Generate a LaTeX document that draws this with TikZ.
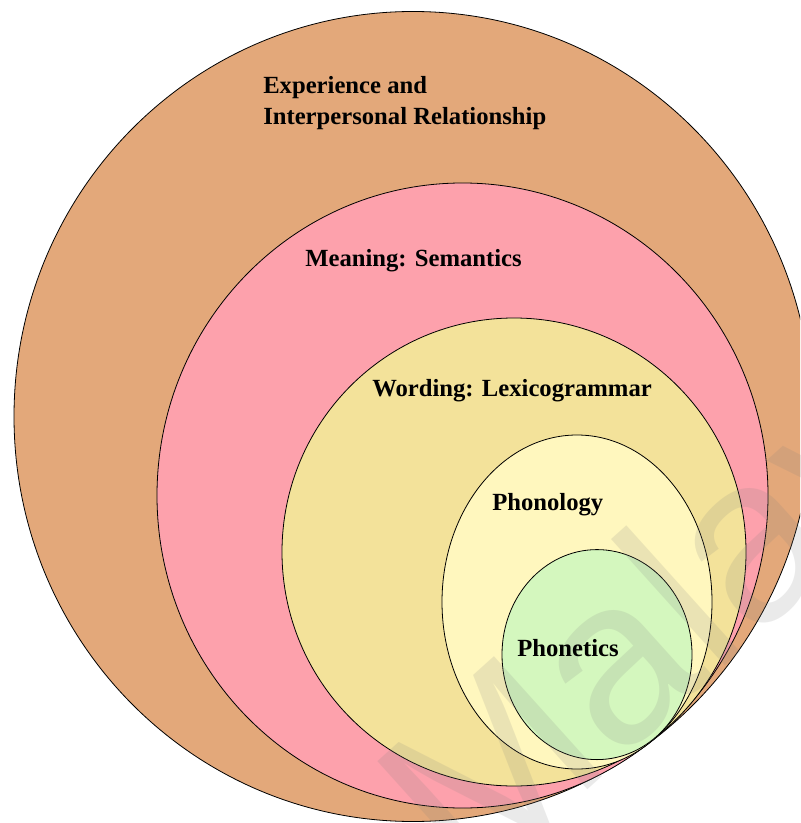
\documentclass[tikz,border=0pt]{standalone}
\usepackage{fontspec}
\setmainfont{Liberation Serif}
\newfontfamily\markfont{Liberation Sans}
\definecolor{expcol}{RGB}{227,168,122}
\definecolor{semcol}{RGB}{253,161,172}
\definecolor{lexcol}{RGB}{243,226,154}
\definecolor{phoncol}{RGB}{255,247,190}
\definecolor{phetcol}{RGB}{212,247,190}
\tikzset{
  layer/.style={draw=black, line width=0.6pt},
  label/.style={anchor=base west, inner sep=0pt, font=\fontsize{18.5}{23.6}\selectfont\bfseries},
  wmark/.style={text=gray, opacity=0.16, inner sep=0pt, rotate=42,
                font=\markfont\fontsize{176}{176}\selectfont}
}
\begin{document}
\begin{tikzpicture}[x=0.75pt, y=-0.75pt]
  \useasboundingbox (0,0) rectangle (800,823);
  \fill[white] (0,0) rectangle (800,823);
  \begin{scope}
    \clip (0,0) rectangle (800,823);
    % nested strata, outermost first
    \draw[layer, fill=expcol]  (413,416.5) ellipse [x radius=399,   y radius=405];
    \draw[layer, fill=semcol]  (462.5,495.5) ellipse [x radius=305.5, y radius=312.5];
    \draw[layer, fill=lexcol]  (514,552)   ellipse [x radius=232,   y radius=234];
    \draw[layer, fill=phoncol] (577,602)   ellipse [x radius=135,   y radius=167];
    \draw[layer, fill=phetcol] (597,654.6) ellipse [x radius=95,    y radius=105];
    % faint repository mark
    \node[wmark] (mark) at (712,596) {Malaya};
  \end{scope}
  % stratum labels
  \node[label] (exp1) at (263,93.5) {Experience and};
  \node[label] (exp2) at (263,125)  {Interpersonal Relationship};
  \node[label] (sem)  at (305,266.7) {Meaning: Semantics};
  \node[label] (lex)  at (372,396)  {Wording: Lexicogrammar};
  \node[label] (phon) at (492,510.7) {Phonology};
  \node[label] (phet) at (517,656)  {Phonetics};
\end{tikzpicture}
\end{document}
